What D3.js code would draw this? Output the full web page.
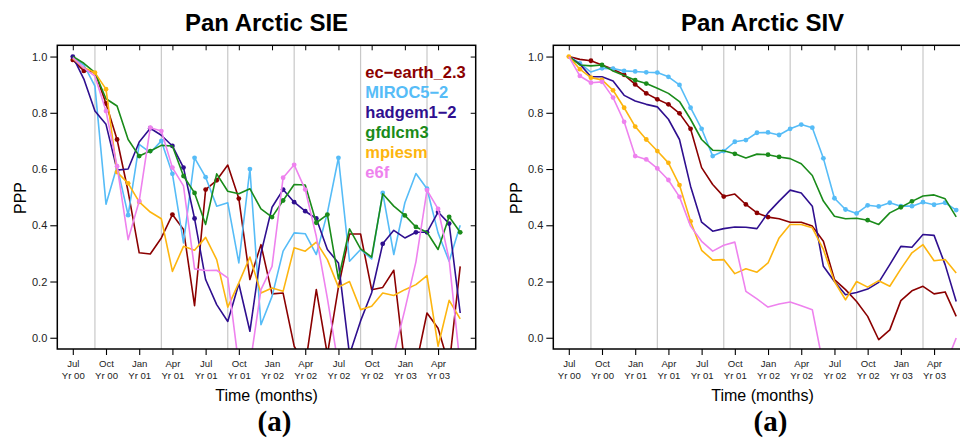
<!DOCTYPE html>
<html>
<head>
<meta charset="utf-8">
<script src="https://cdn.jsdelivr.net/npm/d3@7"></script>
<style>
  body { margin: 0; background: #fff; }
  text { font-family: 'Liberation Sans', Arial, Helvetica, sans-serif; }
</style>
</head>
<body>
<svg id="chart" width="960" height="440"></svg>
<script>
// modelos y colores
const models = ['ec\u2212earth_2.3', 'MIROC5\u22122', 'hadgem1\u22122', 'gfdlcm3', 'mpiesm', 'e6f']
const modelColors = ['#8b0000', '#56bcf7', '#2f0f8f', '#1a8b1a', '#fdb50f', '#ee82ee']

// ejes
const tickMonths = [0, 3, 6, 9, 12, 15, 18, 21, 24, 27, 30, 33]
const tickMonthNames = ['Jul', 'Oct', 'Jan', 'Apr', 'Jul', 'Oct', 'Jan', 'Apr', 'Jul', 'Oct', 'Jan', 'Apr']
const tickYears = ['Yr 00', 'Yr 00', 'Yr 01', 'Yr 01', 'Yr 01', 'Yr 01', 'Yr 02', 'Yr 02', 'Yr 02', 'Yr 02', 'Yr 03', 'Yr 03']
const seasonLines = [2, 8, 14, 20, 26, 32]
const yTicks = [0, 0.2, 0.4, 0.6, 0.8, 1.0]

// Pan Arctic SIE (Jul Yr00 .. Jun Yr03)
const sieEcEarth = [0.988, 0.949, 0.945, 0.833, 0.705, 0.52, 0.302, 0.298, 0.355, 0.438, 0.385, 0.114, 0.527, 0.56, 0.614, 0.495, 0.207, 0.331, 0.156, 0.159, -0.03, -0.1, 0.171, -0.06, 0.18, 0.369, 0.369, 0.171, 0.179, 0.24, -0.1, -0.1, 0.088, 0.034, -0.1, 0.254]
const sieMiroc = [0.995, 0.97, 0.895, 0.475, 0.61, 0.436, 0.688, 0.658, 0.70, 0.583, 0.337, 0.64, 0.571, 0.468, 0.48, 0.266, 0.60, 0.046, 0.147, 0.308, 0.373, 0.37, 0.296, 0.444, 0.64, 0.272, 0.314, 0.28, 0.515, 0.296, 0.48, 0.584, 0.53, 0.373, 0.272, 0.40]
const sieHadgem = [1.0, 0.92, 0.806, 0.759, 0.596, 0.6, 0.696, 0.745, 0.72, 0.682, 0.605, 0.424, 0.207, 0.118, 0.058, 0.192, 0.023, 0.30, 0.464, 0.527, 0.482, 0.45, 0.424, 0.314, 0.266, -0.06, 0.06, 0.16, 0.334, 0.382, 0.355, 0.375, 0.375, 0.447, 0.406, 0.088]
const sieGfdl = [1.0, 0.976, 0.943, 0.85, 0.824, 0.705, 0.646, 0.664, 0.684, 0.682, 0.575, 0.515, 0.403, 0.583, 0.521, 0.512, 0.53, 0.458, 0.429, 0.488, 0.545, 0.543, 0.409, 0.438, 0.209, 0.387, 0.316, 0.287, 0.512, 0.468, 0.435, 0.394, 0.375, 0.314, 0.43, 0.375]
const sieMpiesm = [0.993, 0.96, 0.943, 0.884, 0.589, 0.549, 0.483, 0.447, 0.423, 0.236, 0.325, 0.311, 0.357, 0.278, 0.109, 0.195, 0.287, 0.159, 0.177, 0.165, 0.32, 0.308, 0.34, 0.278, 0.18, 0.2, 0.1, 0.112, 0.159, 0.15, 0.171, 0.189, 0.221, -0.03, 0.133, 0.067]
const sieE6f = [0.996, 0.96, 0.93, 0.806, 0.61, 0.349, 0.486, 0.747, 0.735, 0.605, 0.54, 0.245, 0.239, 0.24, 0.213, -0.1, -0.1, 0.171, 0.254, 0.569, 0.615, 0.527, 0.36, 0.14, -0.1, -0.1, -0.1, -0.1, -0.1, -0.06, 0.1, 0.27, 0.525, 0.458, 0.278, -0.1]

// meses con punto (SIE)
const sieDots = [
  [0, 1, 3, 4, 9, 12, 13, 15],
  [5, 8, 9, 11, 12, 16, 24, 28, 32],
  [0, 7, 9, 10, 11, 19, 20, 21, 22, 28, 31, 32, 33, 34],
  [6, 7, 10, 11, 18, 19, 22, 23, 30, 31, 34, 35],
  [2, 3, 4, 5, 6],
  [3, 4, 6, 7, 8, 9, 19, 20, 21, 32, 33]
]

// Pan Arctic SIV
const sivEcEarth = [1.0, 0.99, 0.985, 0.97, 0.955, 0.935, 0.901, 0.869, 0.848, 0.83, 0.798, 0.743, 0.605, 0.545, 0.502, 0.511, 0.474, 0.444, 0.429, 0.423, 0.411, 0.411, 0.397, 0.343, 0.207, 0.171, 0.129, 0.076, -0.007, 0.028, 0.132, 0.167, 0.183, 0.156, 0.163, 0.076]
const sivMiroc = [1.0, 0.976, 0.945, 0.958, 0.957, 0.949, 0.947, 0.944, 0.943, 0.928, 0.899, 0.818, 0.743, 0.646, 0.664, 0.697, 0.703, 0.729, 0.73, 0.721, 0.743, 0.758, 0.747, 0.638, 0.496, 0.456, 0.442, 0.471, 0.467, 0.48, 0.468, 0.468, 0.482, 0.473, 0.48, 0.454]
const sivHadgem = [1.0, 0.973, 0.928, 0.928, 0.913, 0.862, 0.842, 0.83, 0.821, 0.777, 0.705, 0.539, 0.411, 0.379, 0.388, 0.394, 0.393, 0.388, 0.444, 0.486, 0.525, 0.515, 0.468, 0.254, 0.2, 0.153, 0.161, 0.173, 0.197, 0.26, 0.325, 0.322, 0.367, 0.364, 0.26, 0.129]
const sivGfdl = [1.0, 0.97, 0.967, 0.97, 0.949, 0.933, 0.916, 0.904, 0.887, 0.869, 0.84, 0.777, 0.705, 0.667, 0.665, 0.654, 0.639, 0.653, 0.651, 0.643, 0.637, 0.619, 0.577, 0.486, 0.432, 0.423, 0.425, 0.418, 0.403, 0.444, 0.464, 0.485, 0.504, 0.508, 0.494, 0.43]
const sivMpiesm = [1.0, 0.955, 0.925, 0.917, 0.88, 0.818, 0.751, 0.705, 0.664, 0.622, 0.543, 0.414, 0.311, 0.276, 0.278, 0.228, 0.245, 0.233, 0.266, 0.355, 0.403, 0.403, 0.391, 0.314, 0.2, 0.135, 0.2, 0.18, 0.203, 0.183, 0.245, 0.302, 0.331, 0.274, 0.278, 0.23]
const sivE6f = [1.0, 0.931, 0.907, 0.91, 0.854, 0.768, 0.646, 0.634, 0.602, 0.561, 0.501, 0.397, 0.343, 0.308, 0.329, 0.34, 0.165, 0.138, 0.109, 0.12, 0.127, 0.114, 0.1, -0.1, -0.1, -0.1, -0.1, -0.1, -0.1, -0.1, -0.1, -0.1, -0.1, -0.1, -0.1, -0.001]

// meses con punto (SIV)
const sivDots = [
  [2, 4, 5, 6, 7, 8, 9, 10, 11, 14, 16, 17, 18],
  [1, 3, 4, 5, 6, 7, 8, 9, 10, 11, 12, 13, 14, 15, 16, 17, 18, 19, 20, 21, 22, 23, 24, 25, 26, 27, 28, 29, 30, 31, 32, 33, 34, 35],
  [],
  [3, 6, 7, 15, 18, 19, 27, 30, 31],
  [0, 1, 2, 3, 4, 5, 6, 7, 8, 9, 10, 11],
  [1, 2, 3, 4, 5, 6, 7, 8, 9, 10]
]

const svg = d3.select('#chart')
const defs = svg.append('defs')

const boxW = 418.4
const boxTop = 45.3
const boxBottom = 349

function panel(left, name, title, series, dots, legend) {
  const right = left + boxW
  const x = d3.scaleLinear().domain([-1.4, 36.4]).range([left, right])
  const y = d3.scaleLinear().domain([-0.04, 1.04]).range([boxBottom, boxTop])

  defs.append('clipPath').attr('id', 'clip-' + name)
    .append('rect')
    .attr('x', left).attr('y', boxTop)
    .attr('width', boxW).attr('height', boxBottom - boxTop)

  const g = svg.append('g')

  // lineas grises de marzo / septiembre
  g.selectAll('.season')
    .data(seasonLines)
    .enter().append('line')
    .attr('x1', d => x(d)).attr('x2', d => x(d))
    .attr('y1', boxTop).attr('y2', boxBottom)
    .attr('stroke', '#c8c8c8')
    .attr('stroke-width', 1.2)

  const plot = g.append('g').attr('clip-path', `url(#clip-${name})`)
  const lineGen = d3.line().x((d, i) => x(i)).y(d => y(d))

  series.forEach((s, k) => {
    plot.append('path')
      .attr('d', lineGen(s))
      .attr('fill', 'none')
      .attr('stroke', modelColors[k])
      .attr('stroke-width', 1.6)
      .attr('stroke-linejoin', 'round')
    plot.selectAll(null)
      .data(dots[k])
      .enter().append('circle')
      .attr('cx', i => x(i))
      .attr('cy', i => y(s[i]))
      .attr('r', 2.4)
      .attr('fill', modelColors[k])
  })

  // marco
  g.append('rect')
    .attr('x', left).attr('y', boxTop)
    .attr('width', boxW).attr('height', boxBottom - boxTop)
    .attr('fill', 'none')
    .attr('stroke', '#000')
    .attr('stroke-width', 1.5)

  // eje x inferior
  const xAxis = g.append('g')
    .attr('transform', `translate(0, ${boxBottom})`)
    .call(d3.axisBottom(x).tickValues(tickMonths).tickSize(6).tickSizeOuter(0))
  xAxis.select('.domain').remove()
  xAxis.selectAll('.tick line').attr('stroke-width', 1.1)
  xAxis.selectAll('.tick text').each(function (d, k) {
    const t = d3.select(this)
    t.text(null).attr('y', 0).attr('dy', null)
      .attr('font-size', 9.6).attr('fill', '#222')
    t.append('tspan').attr('x', 0).attr('y', 18.4).text(tickMonthNames[k])
    t.append('tspan').attr('x', 0).attr('y', 30.4).text(tickYears[k])
  })

  // eje x superior (ticks hacia dentro)
  const xTop = g.append('g')
    .attr('transform', `translate(0, ${boxTop})`)
    .call(d3.axisTop(x).tickValues(tickMonths).tickSize(-5).tickFormat(''))
  xTop.select('.domain').remove()

  // eje y izquierdo
  const yAxis = g.append('g')
    .attr('transform', `translate(${left}, 0)`)
    .call(d3.axisLeft(y).tickValues(yTicks).tickSize(7).tickPadding(3).tickFormat(d3.format('.1f')))
  yAxis.select('.domain').remove()
  yAxis.selectAll('.tick line').attr('stroke-width', 1.1)
  yAxis.selectAll('.tick text').attr('font-size', 11).attr('fill', '#222')

  // eje y derecho (ticks hacia dentro)
  const yRight = g.append('g')
    .attr('transform', `translate(${right}, 0)`)
    .call(d3.axisRight(y).tickValues(yTicks).tickSize(-5).tickFormat(''))
  yRight.select('.domain').remove()

  const cx = (left + right) / 2

  g.append('text')
    .attr('x', cx).attr('y', 31)
    .attr('text-anchor', 'middle')
    .attr('font-size', 24).attr('font-weight', 'bold')
    .text(title)

  g.append('text')
    .attr('transform', `translate(${left - 31}, 198) rotate(-90)`)
    .attr('text-anchor', 'middle')
    .attr('font-size', 16)
    .text('PPP')

  g.append('text')
    .attr('x', cx).attr('y', 401)
    .attr('text-anchor', 'middle')
    .attr('font-size', 16)
    .text('Time (months)')

  g.append('text')
    .attr('x', cx + 8).attr('y', 431)
    .attr('text-anchor', 'middle')
    .attr('font-size', 29).attr('font-weight', 'bold')
    .style('font-family', "'Liberation Serif', 'Times New Roman', serif")
    .text('(a)')

  if (legend) {
    g.selectAll('.leg')
      .data(models)
      .enter().append('text')
      .attr('x', left + 308)
      .attr('y', (d, k) => 78 + k * 19.9)
      .attr('font-size', 16.5).attr('font-weight', 'bold')
      .attr('fill', (d, k) => modelColors[k])
      .text(d => d)
  }
}

panel(57.3, 'sie', 'Pan Arctic SIE',
  [sieEcEarth, sieMiroc, sieHadgem, sieGfdl, sieMpiesm, sieE6f], sieDots, true)
panel(553.3, 'siv', 'Pan Arctic SIV',
  [sivEcEarth, sivMiroc, sivHadgem, sivGfdl, sivMpiesm, sivE6f], sivDots, false)
</script>
</body>
</html>
